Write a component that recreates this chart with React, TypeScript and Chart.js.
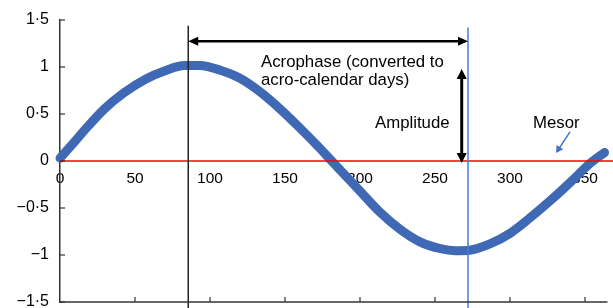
import { useEffect, useRef } from "react";
import { Chart, registerables } from "chart.js";
Chart.register(...registerables);

// Curve (day of year, relative value)
const curveDays = [0, 10, 17, 30, 43, 57, 70, 83, 93, 107, 120, 133, 147, 160, 173, 180, 187, 200, 213, 227, 240, 253, 264, 273, 287, 300, 313, 327, 340, 353, 363];
const curveValues = [0.03, 0.21, 0.34, 0.56, 0.73, 0.87, 0.96, 1.015, 1.015, 0.965, 0.88, 0.74, 0.55, 0.35, 0.14, 0.02, -0.1, -0.32, -0.54, -0.73, -0.86, -0.93, -0.955, -0.95, -0.88, -0.77, -0.61, -0.42, -0.23, -0.03, 0.09];

// Mesor line
const mesorDays = [0, 370];
const mesorValues = [0, 0];

// Reference vertical lines
const acrophaseDays = [85.5, 85.5];
const acrophaseValues = [1.44, -1.7];
const troughDays = [272, 272];
const troughValues = [1.42, -1.7];

// Annotation arrows [x1, y1, x2, y2]
const acrophaseArrow = [85.5, 1.274, 272, 1.274];
const amplitudeArrow = [267.8, 0.98, 267.8, -0.02];
const mesorArrow = [340, 0.31, 330.7, 0.085];

// Annotation texts
const labelTexts = ["Acrophase (converted to", "acro-calendar days)", "Amplitude", "Mesor"];
const labelDays = [134, 134, 210, 315.3];
const labelValues = [1.003, 0.81, 0.355, 0.355];

// Axis settings
const xMin = 0, xMax = 365, xStep = 50;
const yMin = -1.5, yMax = 1.5, yStep = 0.5;

const FONT = '"Liberation Sans", Arial, sans-serif';

function fmt(v: number): string {
  const s = String(Math.abs(v)).replace(".", "\u00B7");
  return v < 0 ? "\u2212" + s : s;
}

function drawArrow(ctx: CanvasRenderingContext2D, x1: number, y1: number, x2: number, y2: number,
  head: number, half: number, both: boolean, color: string, lw: number) {
  const ang = Math.atan2(y2 - y1, x2 - x1);
  const cos = Math.cos(ang), sin = Math.sin(ang);
  const sx = both ? x1 + cos * head * 0.8 : x1;
  const sy = both ? y1 + sin * head * 0.8 : y1;
  const ex = x2 - cos * head * 0.8, ey = y2 - sin * head * 0.8;
  ctx.strokeStyle = color;
  ctx.fillStyle = color;
  ctx.lineWidth = lw;
  ctx.beginPath();
  ctx.moveTo(sx, sy);
  ctx.lineTo(ex, ey);
  ctx.stroke();
  const tri = (tx: number, ty: number, dx: number, dy: number) => {
    const bx = tx - dx * head, by = ty - dy * head;
    ctx.beginPath();
    ctx.moveTo(tx, ty);
    ctx.lineTo(bx - dy * half, by + dx * half);
    ctx.lineTo(bx + dy * half, by - dx * half);
    ctx.closePath();
    ctx.fill();
  };
  tri(x2, y2, cos, sin);
  if (both) tri(x1, y1, -cos, -sin);
}

const annotPlugin = {
  id: "annot",
  afterDraw(chart: any) {
    const { ctx, chartArea } = chart;
    const x = chart.scales.x, y = chart.scales.y;
    ctx.save();
    // bottom axis line and inward tick marks
    ctx.strokeStyle = "#333";
    ctx.lineWidth = 1.5;
    ctx.beginPath();
    ctx.moveTo(chartArea.left - 0.75, chartArea.bottom);
    ctx.lineTo(chartArea.right, chartArea.bottom);
    ctx.stroke();
    ctx.lineWidth = 1.2;
    x.ticks.forEach((t: any) => {
      if (t.value === 0) return;
      const px = x.getPixelForValue(t.value);
      ctx.beginPath();
      ctx.moveTo(px, chartArea.bottom);
      ctx.lineTo(px, chartArea.bottom - 5);
      ctx.stroke();
    });
    y.ticks.forEach((t: any) => {
      const py = y.getPixelForValue(t.value);
      ctx.beginPath();
      ctx.moveTo(chartArea.left, py);
      ctx.lineTo(chartArea.left + 5, py);
      ctx.stroke();
    });
    // arrows
    const P = (a: number[]) => [x.getPixelForValue(a[0]), y.getPixelForValue(a[1]), x.getPixelForValue(a[2]), y.getPixelForValue(a[3])];
    const a1 = P(acrophaseArrow);
    drawArrow(ctx, a1[0], a1[1], a1[2], a1[3], 10, 4.5, true, "#000", 2.5);
    const a2 = P(amplitudeArrow);
    drawArrow(ctx, a2[0], a2[1], a2[2], a2[3], 10, 5, true, "#000", 3);
    const a3 = P(mesorArrow);
    drawArrow(ctx, a3[0], a3[1], a3[2], a3[3], 7, 4, false, "#4472C4", 1.5);
    // texts
    ctx.fillStyle = "#000";
    ctx.font = "16.8px " + FONT;
    ctx.textAlign = "left";
    ctx.textBaseline = "alphabetic";
    labelTexts.forEach((s, i) => {
      ctx.fillText(s, x.getPixelForValue(labelDays[i]), y.getPixelForValue(labelValues[i]));
    });
    ctx.restore();
  },
};

export default function App() {
  const ref = useRef<HTMLCanvasElement>(null);
  useEffect(() => {
    document.body.style.margin = "0";
    const pts = (xs: number[], ys: number[]) => xs.map((v, i) => ({ x: v, y: ys[i] }));
    const chart = new Chart(ref.current!, {
      type: "line",
      data: {
        datasets: [
          { data: pts(troughDays, troughValues), borderColor: "#4a7fd4", borderWidth: 1.5, pointRadius: 0, clip: false as any, tension: 0 },
          { data: pts(acrophaseDays, acrophaseValues), borderColor: "#222", borderWidth: 1.5, pointRadius: 0, clip: false as any, tension: 0 },
          { data: pts(mesorDays, mesorValues), borderColor: "#ff0000", borderWidth: 1.6, pointRadius: 0, clip: false as any, tension: 0 },
          { data: pts(curveDays, curveValues), borderColor: "#3f68b5", borderWidth: 9, pointRadius: 0, cubicInterpolationMode: "monotone", borderCapStyle: "round", borderJoinStyle: "round", clip: false as any },
        ],
      },
      options: {
        responsive: false,
        animation: false,
        events: [],
        layout: { padding: { left: 0, right: 5.5, top: 20, bottom: 6 } },
        plugins: { legend: { display: false }, tooltip: { enabled: false } },
        scales: {
          x: {
            type: "linear",
            min: xMin,
            max: xMax,
            position: { y: 0 } as any,
            z: 1,
            grid: { display: false, drawTicks: false },
            border: { display: false },
            ticks: { stepSize: xStep, includeBounds: false, padding: 8, maxRotation: 0, color: "#000", font: { family: FONT, size: 15.5 } },
            afterFit: (s: any) => { s.height = 0; s.paddingLeft = 0; s.paddingRight = 0; },
          },
          y: {
            type: "linear",
            min: yMin,
            max: yMax,
            position: "left",
            grid: { display: false, drawTicks: false },
            border: { display: true, color: "#333", width: 1.5 },
            ticks: { stepSize: yStep, padding: 11, color: "#000", font: { family: FONT, size: 16 }, callback: (v: any) => fmt(Number(v)) },
            afterFit: (s: any) => { s.width = 60; s.paddingTop = 0; s.paddingBottom = 0; },
          },
        },
      },
      plugins: [annotPlugin],
    });
    return () => chart.destroy();
  }, []);
  return (
    <div style={{ width: 613, height: 308 }}>
      <canvas ref={ref} width={613} height={308} style={{ display: "block" }} />
    </div>
  );
}
